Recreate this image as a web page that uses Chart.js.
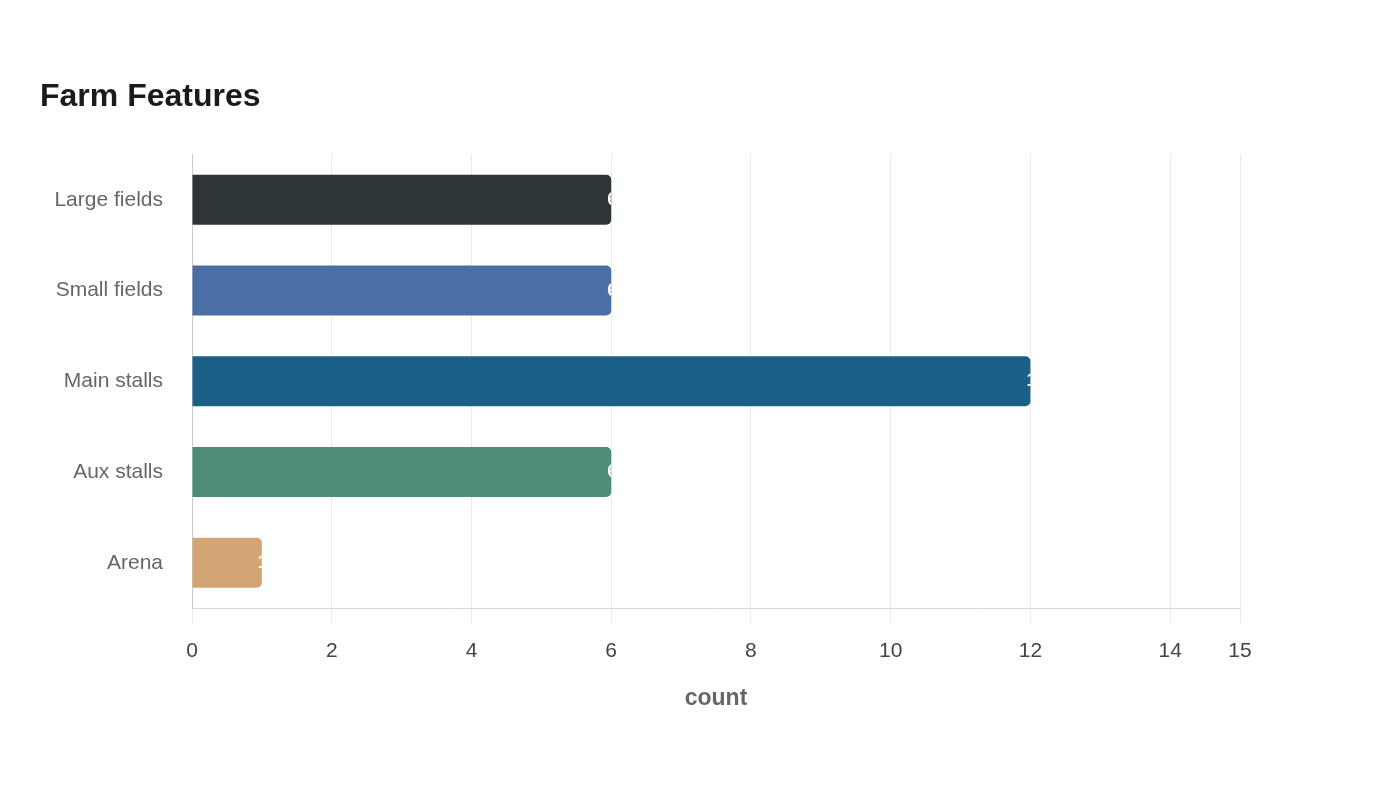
<!DOCTYPE html>
<html>
<head>
<meta charset="utf-8">
<script src="https://cdn.jsdelivr.net/npm/chart.js@4"></script>
<style>
  html, body { margin: 0; padding: 0; background: #ffffff; }
  #wrap { width: 1400px; height: 800px; }
</style>
</head>
<body>
<div id="wrap"><canvas id="c" width="1400" height="800"></canvas></div>
<script>
const categories = ["Large fields", "Small fields", "Main stalls", "Aux stalls", "Arena"];
const counts = [6, 6, 12, 6, 1];
const barColors = ["#2d3538", "#4a6fa5", "#1a5f85", "#4e8c7a", "#d4a574"];
const xTickValues = [0, 2, 4, 6, 8, 10, 12, 14, 15];
const chartTitle = "Farm Features";
const xAxisTitle = "count";

const FONT = "'Liberation Sans', Arial, Helvetica, sans-serif";

const valueLabels = {
  id: 'valueLabels',
  afterDatasetsDraw(chart) {
    const ctx = chart.ctx;
    const meta = chart.getDatasetMeta(0);
    meta.data.forEach((bar, i) => {
      const props = bar.getProps(['x', 'y', 'base', 'height'], true);
      const left = Math.min(props.base, props.x);
      const right = Math.max(props.base, props.x);
      ctx.save();
      ctx.beginPath();
      ctx.rect(left, props.y - props.height / 2, right - left, props.height);
      ctx.clip();
      ctx.fillStyle = '#ffffff';
      ctx.font = "bold 18px " + FONT;
      ctx.textAlign = 'left';
      ctx.textBaseline = 'middle';
      ctx.fillText(String(counts[i]), right - 4, props.y);
      ctx.restore();
    });
  }
};

new Chart(document.getElementById('c'), {
  type: 'bar',
  data: {
    labels: categories,
    datasets: [{
      data: counts,
      backgroundColor: barColors,
      borderRadius: 5,
      borderSkipped: 'start',
      barPercentage: 0.55,
      categoryPercentage: 1.0
    }]
  },
  options: {
    indexAxis: 'y',
    responsive: false,
    animation: false,
    devicePixelRatio: 1,
    layout: { padding: { left: 40, right: 160, top: 0, bottom: 88 } },
    plugins: {
      legend: { display: false },
      tooltip: { enabled: false },
      title: {
        display: true,
        text: chartTitle,
        align: 'start',
        color: '#1a1a1a',
        font: { family: FONT, size: 32, weight: 'bold' },
        padding: { top: 78, bottom: 38 }
      }
    },
    scales: {
      x: {
        type: 'linear',
        min: 0,
        max: 15,
        afterBuildTicks: (axis) => { axis.ticks = xTickValues.map(v => ({ value: v })); },
        grid: { color: '#ebebeb', lineWidth: 1, drawTicks: true, tickLength: 15, tickColor: '#ebebeb' },
        border: { display: true, color: '#d6d6d6', width: 1 },
        ticks: {
          color: '#444444',
          font: { family: FONT, size: 21 },
          padding: 15.5,
          maxRotation: 0,
          autoSkip: false
        },
        title: {
          display: true,
          text: xAxisTitle,
          color: '#666666',
          font: { family: FONT, size: 23, weight: 'bold' },
          padding: { top: 5, bottom: 0 }
        }
      },
      y: {
        afterFit: (scale) => { scale.width = 152; },
        grid: { display: false, drawTicks: false },
        border: { display: true, color: '#cccccc', width: 1 },
        ticks: {
          color: '#666666',
          font: { family: FONT, size: 21 },
          padding: 29
        }
      }
    }
  },
  plugins: [valueLabels]
});
</script>
</body>
</html>
